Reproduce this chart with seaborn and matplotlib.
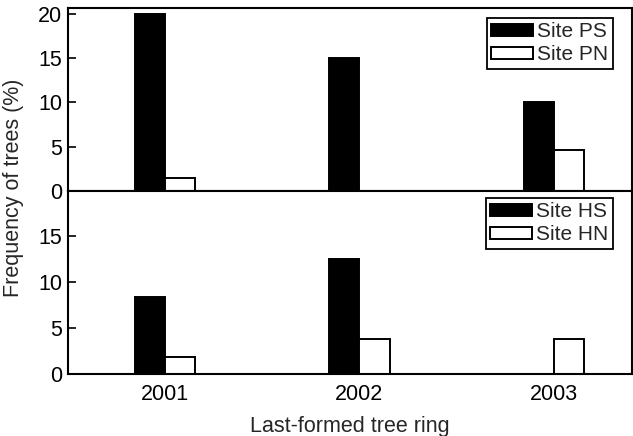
import seaborn as sns
import matplotlib.pyplot as plt
import pandas as pd

# values
years = ["2001", "2002", "2003"]
site_ps = [20, 15, 10]
site_pn = [1.5, 0, 4.6]
site_hs = [8.3, 12.5, 0]
site_hn = [1.9, 3.8, 3.8]
top_ticks = [0, 5, 10, 15, 20]
bottom_ticks = [0, 5, 10, 15]


def long_form(a, b, name_a, name_b):
    return pd.DataFrame({
        "year": years * 2,
        "freq": a + b,
        "site": [name_a] * len(years) + [name_b] * len(years),
    })


sns.set_style("ticks")
plt.rcParams["font.family"] = ["Liberation Sans", "DejaVu Sans"]
fs = 15.5

fig, (ax1, ax2) = plt.subplots(2, 1, figsize=(6.33, 4.36), dpi=100, sharex=True)
fig.subplots_adjust(left=0.107, right=0.998, top=0.981, bottom=0.142, hspace=0)

panels = [
    (ax1, long_form(site_ps, site_pn, "Site PS", "Site PN"), top_ticks, 20.6, 0.946),
    (ax2, long_form(site_hs, site_hn, "Site HS", "Site HN"), bottom_ticks, 19.8, 0.962),
]

for ax, data, ticks, ymax, leg_top in panels:
    sns.barplot(
        data=data, x="year", y="freq", hue="site",
        palette=["black", "white"], saturation=1,
        edgecolor="black", linewidth=1.4, width=0.31, gap=0,
        ax=ax,
    )
    ax.set_ylim(0, ymax)
    ax.set_xlim(-0.5, 2.4)
    ax.set_yticks(ticks)
    ax.set_ylabel("")
    ax.set_xlabel("")
    for side in ["left", "right", "top", "bottom"]:
        ax.spines[side].set_visible(True)
        ax.spines[side].set_linewidth(1.5)
        ax.spines[side].set_color("black")
    ax.tick_params(axis="y", direction="in", length=6, width=1.2, pad=4,
                   labelsize=fs, colors="black")
    ax.tick_params(axis="x", length=0, pad=7, labelsize=fs, colors="black")
    leg = ax.legend(loc="upper right", bbox_to_anchor=(0.966, leg_top),
                    frameon=True, fancybox=False, edgecolor="black",
                    fontsize=15, handlelength=2.0, handleheight=0.5,
                    handletextpad=0.2, borderpad=0.2, labelspacing=0.2,
                    borderaxespad=0)
    leg.get_frame().set_linewidth(1.3)
    leg.get_frame().set_alpha(1)

ax1.tick_params(axis="x", labelbottom=False)
ax2.set_xlabel("Last-formed tree ring", fontsize=fs, labelpad=8)
fig.text(0.021, 0.569, "Frequency of trees (%)", rotation=90,
         ha="center", va="center", fontsize=fs)

plt.savefig("out.png", dpi=100)
